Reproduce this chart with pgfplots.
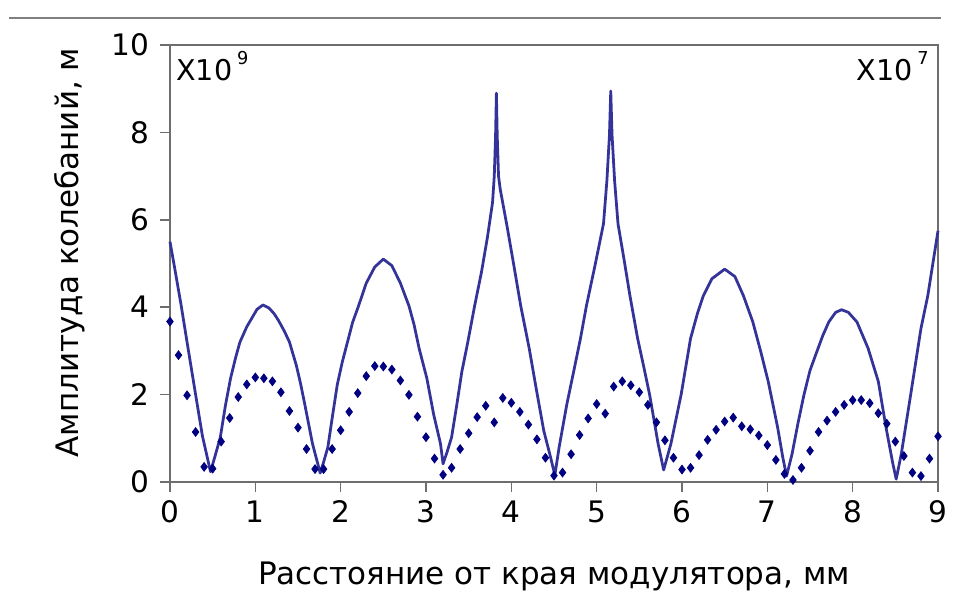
\documentclass[border=0pt]{standalone}
\usepackage{pgfplots}
\pgfplotsset{compat=1.18}
\usepackage{fontspec}
\setmainfont{DejaVu Sans}
\usetikzlibrary{calc}
\definecolor{linecol}{RGB}{51,51,153}
\definecolor{dotcol}{RGB}{0,0,128}
\definecolor{axcol}{RGB}{110,110,110}
\begin{document}
\begin{tikzpicture}
\begin{axis}[
  name=ax,
  scale only axis,
  width=389.25pt, height=221.25pt,
  xmin=0, xmax=9, ymin=0, ymax=10,
  xtick={0,1,...,9}, ytick={0,2,...,10},
  tick align=outside, major tick length=5pt,
  xtick pos=bottom, ytick pos=left,
  axis line style={axcol, line width=0.8pt},
  tick style={axcol, line width=0.8pt},
  /pgf/number format/assume math mode=true,
  tick label style={font=\fontsize{15}{17}\selectfont},
  xticklabel style={yshift=-1pt},
  yticklabel style={xshift=-2pt},
  xlabel={Расстояние от края модулятора, мм},
  ylabel={Амплитуда колебаний, м},
  label style={font=\fontsize{15.7}{18}\selectfont},
  xlabel style={at={(axis description cs:0.5,0)}, anchor=center, yshift=-48pt},
  ylabel style={at={(axis description cs:-0.131,0.525)}, anchor=center},
  clip=false,
]
\addplot[linecol, line width=1.4pt, line join=round] coordinates {
(0,5.50) (0.05,4.95) (0.13,4.05) (0.2,3.2) (0.3,2.0) (0.38,1.05) (0.475,0.23)
(0.53,0.6) (0.59,1.02) (0.65,1.75) (0.71,2.37) (0.77,2.85) (0.82,3.2) (0.9,3.55)
(0.96,3.75) (1.02,3.95) (1.09,4.05) (1.16,3.98) (1.22,3.85) (1.27,3.7) (1.34,3.45)
(1.40,3.2) (1.48,2.67) (1.53,2.25) (1.58,1.77) (1.67,0.87) (1.72,0.5) (1.76,0.2)
(1.8,0.45) (1.85,0.79) (1.9,1.45) (1.96,2.22) (2.02,2.75) (2.08,3.2) (2.14,3.65)
(2.21,4.03) (2.3,4.55) (2.4,4.92) (2.5,5.1) (2.6,4.95) (2.7,4.55) (2.80,4.03)
(2.86,3.6) (2.92,3.05) (3.01,2.37) (3.09,1.54) (3.17,0.87) (3.20,0.41)
(3.25,0.7) (3.30,1.02) (3.36,1.75) (3.42,2.52) (3.49,3.2) (3.57,4.03) (3.65,4.8)
(3.72,5.6) (3.78,6.4) (3.80,7.0) (3.815,7.9) (3.825,8.9) (3.835,7.9) (3.85,7.0)
(3.87,6.7) (3.95,5.85) (4.03,4.95) (4.11,4.03) (4.21,3.05) (4.29,2.15) (4.38,1.17)
(4.46,0.56) (4.51,0.15) (4.56,0.79) (4.65,1.77) (4.73,2.52) (4.81,3.28) (4.88,4.03)
(4.98,4.95) (5.08,5.91) (5.12,6.9) (5.15,7.95) (5.165,8.95) (5.18,7.95) (5.21,6.9)
(5.25,5.91) (5.32,5.1) (5.39,4.26) (5.48,3.28) (5.55,2.65) (5.62,2.0) (5.72,0.87)
(5.785,0.27) (5.87,0.87) (5.99,2.0) (6.10,3.28) (6.18,3.85) (6.25,4.26) (6.35,4.65)
(6.5,4.87) (6.62,4.7) (6.72,4.26) (6.83,3.66) (6.92,3.0) (7.01,2.30) (7.12,1.25)
(7.18,0.57) (7.225,0.13) (7.29,0.64) (7.36,1.35) (7.43,2.0) (7.5,2.55) (7.58,2.98)
(7.65,3.35) (7.72,3.66) (7.8,3.88) (7.87,3.94) (7.95,3.88) (8.05,3.66) (8.18,3.06)
(8.30,2.30) (8.39,1.25) (8.47,0.42) (8.51,0.06) (8.57,0.64) (8.68,2.0) (8.80,3.51)
(8.88,4.26) (9.0,5.75)
};
\addplot[only marks, mark=diamond*, mark size=2.2pt, dotcol, mark options={fill=dotcol, draw=dotcol}] coordinates {
(0,3.67) (0.1,2.90) (0.2,1.98) (0.3,1.14) (0.4,0.34) (0.5,0.30) (0.6,0.92) (0.7,1.46)
(0.8,1.94) (0.9,2.23) (1.0,2.39) (1.1,2.37) (1.2,2.30) (1.3,2.05) (1.4,1.62) (1.5,1.24)
(1.6,0.75) (1.7,0.29) (1.8,0.29) (1.9,0.75) (2.0,1.18) (2.1,1.60) (2.2,2.03) (2.3,2.42)
(2.4,2.65) (2.5,2.64) (2.6,2.57) (2.7,2.32) (2.8,1.99) (2.9,1.49) (3.0,1.02) (3.1,0.53)
(3.2,0.16) (3.3,0.32) (3.4,0.75) (3.5,1.11) (3.6,1.48) (3.7,1.74) (3.8,1.36) (3.9,1.92)
(4.0,1.81) (4.1,1.60) (4.2,1.31) (4.3,0.97) (4.4,0.55) (4.5,0.14) (4.6,0.21) (4.7,0.63)
(4.8,1.07) (4.9,1.45) (5.0,1.78) (5.1,1.56) (5.2,2.18) (5.3,2.30) (5.4,2.21) (5.5,2.05)
(5.6,1.76) (5.7,1.36) (5.8,0.95) (5.9,0.55) (6.0,0.28) (6.1,0.32) (6.2,0.61) (6.3,0.96)
(6.4,1.19) (6.5,1.38) (6.6,1.47) (6.7,1.27) (6.8,1.20) (6.9,1.06) (7.0,0.84) (7.1,0.50)
(7.2,0.18) (7.3,0.04) (7.4,0.32) (7.5,0.71) (7.6,1.14) (7.7,1.40) (7.8,1.60) (7.9,1.76)
(8.0,1.87) (8.1,1.87) (8.2,1.80) (8.3,1.57) (8.4,1.33) (8.5,0.92) (8.6,0.59) (8.7,0.21)
(8.8,0.13) (8.9,0.53) (9.0,1.04)
};
\node[anchor=base west, inner sep=0pt, font=\fontsize{14.5}{16}\selectfont] at ($(rel axis cs:0,1)+(3pt,-18pt)$) {X10\,\raisebox{8pt}{\fontsize{9}{10}\selectfont 9}};
\node[anchor=base east, inner sep=0pt, font=\fontsize{14.5}{16}\selectfont] at ($(rel axis cs:1,1)+(-4.5pt,-18pt)$) {X10\,\raisebox{8pt}{\fontsize{9}{10}\selectfont 7}};
\end{axis}
\draw[gray, line width=1pt] ($(ax.north west)+(-81.65pt,13.9pt)$) -- ($(ax.north east)+(1.6pt,13.9pt)$);
\path[use as bounding box] ($(ax.south west)+(-86.15pt,-54.35pt)$) rectangle ($(ax.north east)+(1.6pt,22.9pt)$);
\end{tikzpicture}
\end{document}
